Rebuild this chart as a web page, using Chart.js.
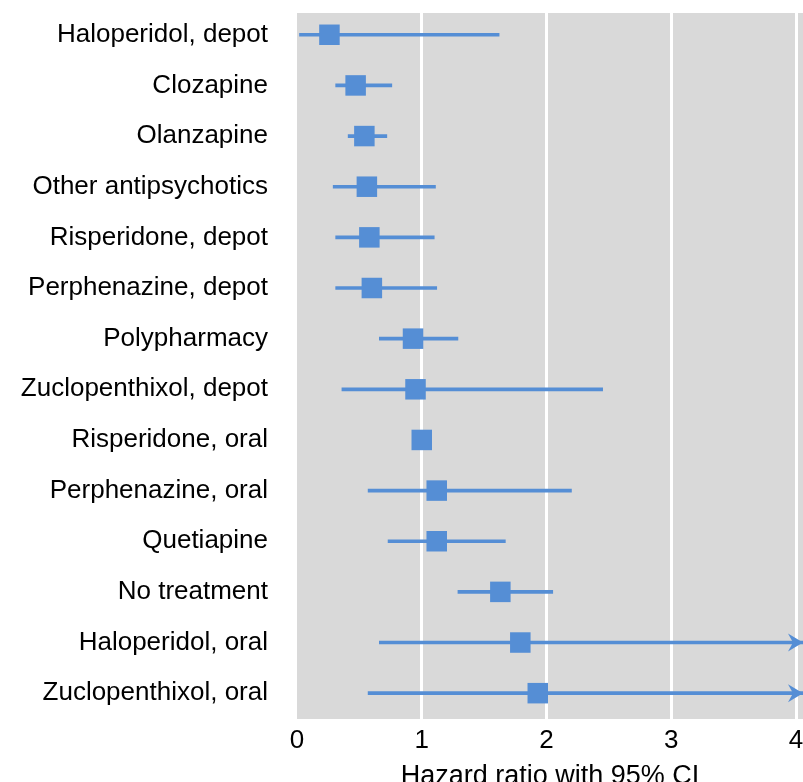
<!DOCTYPE html>
<html><head><meta charset="utf-8">
<script src="https://cdn.jsdelivr.net/npm/chart.js@4"></script>
<style>html,body{margin:0;padding:0;overflow:hidden;background:#fff}</style>
</head><body>
<canvas id="c" width="803" height="800"></canvas>
<script>
const treatments = [
  "Haloperidol, depot", "Clozapine", "Olanzapine", "Other antipsychotics",
  "Risperidone, depot", "Perphenazine, depot", "Polypharmacy", "Zuclopenthixol, depot",
  "Risperidone, oral", "Perphenazine, oral", "Quetiapine", "No treatment",
  "Haloperidol, oral", "Zuclopenthixol, oral"
];
const hazardRatio = [0.26, 0.47, 0.54, 0.56, 0.58, 0.60, 0.93, 0.95, 1.00, 1.12, 1.12, 1.63, 1.79, 1.93];
const ciLower     = [0.02, 0.31, 0.41, 0.29, 0.31, 0.31, 0.66, 0.36, null, 0.57, 0.73, 1.29, 0.66, 0.57];
const ciUpper     = [1.62, 0.76, 0.72, 1.11, 1.10, 1.12, 1.29, 2.45, null, 2.20, 1.67, 2.05, 4.87, 6.52];
const xTicks = [0, 1, 2, 3, 4];
const xTitle = "Hazard ratio with 95% CI";

const BLUE = "#558ED5";
const GREY = "#D9D9D9";
Chart.defaults.font.family = "'Liberation Sans', Arial, sans-serif";
Chart.defaults.color = "#000";

const bgPlugin = {
  id: "bg",
  beforeDraw(chart) {
    const a = chart.chartArea, ctx = chart.ctx;
    ctx.save(); ctx.fillStyle = GREY;
    ctx.fillRect(a.left, a.top, a.right - a.left, a.bottom - a.top);
    ctx.restore();
  }
};
const arrowPlugin = {
  id: "arrows",
  afterDatasetsDraw(chart) {
    const xs = chart.scales.x, ys = chart.scales.y, ctx = chart.ctx;
    const right = chart.chartArea.right;
    ctx.save(); ctx.fillStyle = BLUE;
    ciUpper.forEach((u, i) => {
      if (u !== null && u > xs.max) {
        const y = ys.getPixelForValue(i);
        ctx.beginPath();
        ctx.moveTo(right, y);
        ctx.lineTo(right - 15, y - 9);
        ctx.lineTo(right - 10, y);
        ctx.lineTo(right - 15, y + 9);
        ctx.closePath(); ctx.fill();
      }
    });
    ctx.restore();
  }
};

const ciData = treatments.map((t, i) => ciLower[i] === null ? null : ({ y: i, x: [ciLower[i], ciUpper[i]] }));
const hrData = treatments.map((t, i) => ({ x: hazardRatio[i], y: i }));

new Chart(document.getElementById("c"), {
  type: "bar",
  data: {
    datasets: [
      { type: "bar", indexAxis: "y", data: ciData.filter(d => d), backgroundColor: BLUE,
        borderWidth: 0, barThickness: 3, order: 2 },
      { type: "scatter", data: hrData, pointStyle: "rect", pointRadius: 14.5,
        backgroundColor: BLUE, borderWidth: 0, order: 1 }
    ]
  },
  options: {
    responsive: false, animation: false,
    layout: { autoPadding: false, padding: { top: 13, left: 0, right: 0, bottom: 0 } },
    plugins: { legend: { display: false }, tooltip: { enabled: false } },
    scales: {
      x: {
        type: "linear", position: "bottom", min: 0, max: 4.056, offset: false,
        afterBuildTicks: s => { s.ticks = xTicks.map(v => ({ value: v })); },
        afterFit: s => { s.height = 81; s.paddingLeft = 0; s.paddingRight = 0; },
        grid: { offset: false, color: c => (c.tick && c.tick.value === 0) ? "rgba(0,0,0,0)" : "#fff", lineWidth: 3, drawTicks: false },
        border: { display: false },
        ticks: { font: { size: 26 }, padding: 6, maxRotation: 0, autoSkip: false, color: "#000" },
        title: { display: true, text: xTitle, font: { size: 27 }, color: "#000", padding: { top: 0, bottom: 7 } }
      },
      y: {
        type: "linear", reverse: true, min: -0.43, max: 13.51, offset: false,
        afterBuildTicks: s => { s.ticks = treatments.map((t, i) => ({ value: i })); },
        afterFit: s => { s.width = 297; s.paddingTop = 0; s.paddingBottom = 0; },
        grid: { display: false, drawTicks: false, offset: false },
        border: { display: false },
        ticks: { font: { size: 26 }, padding: 29, autoSkip: false, color: "#000",
          callback: v => treatments[v] }
      }
    }
  },
  plugins: [bgPlugin, arrowPlugin]
});
</script>
</body></html>
